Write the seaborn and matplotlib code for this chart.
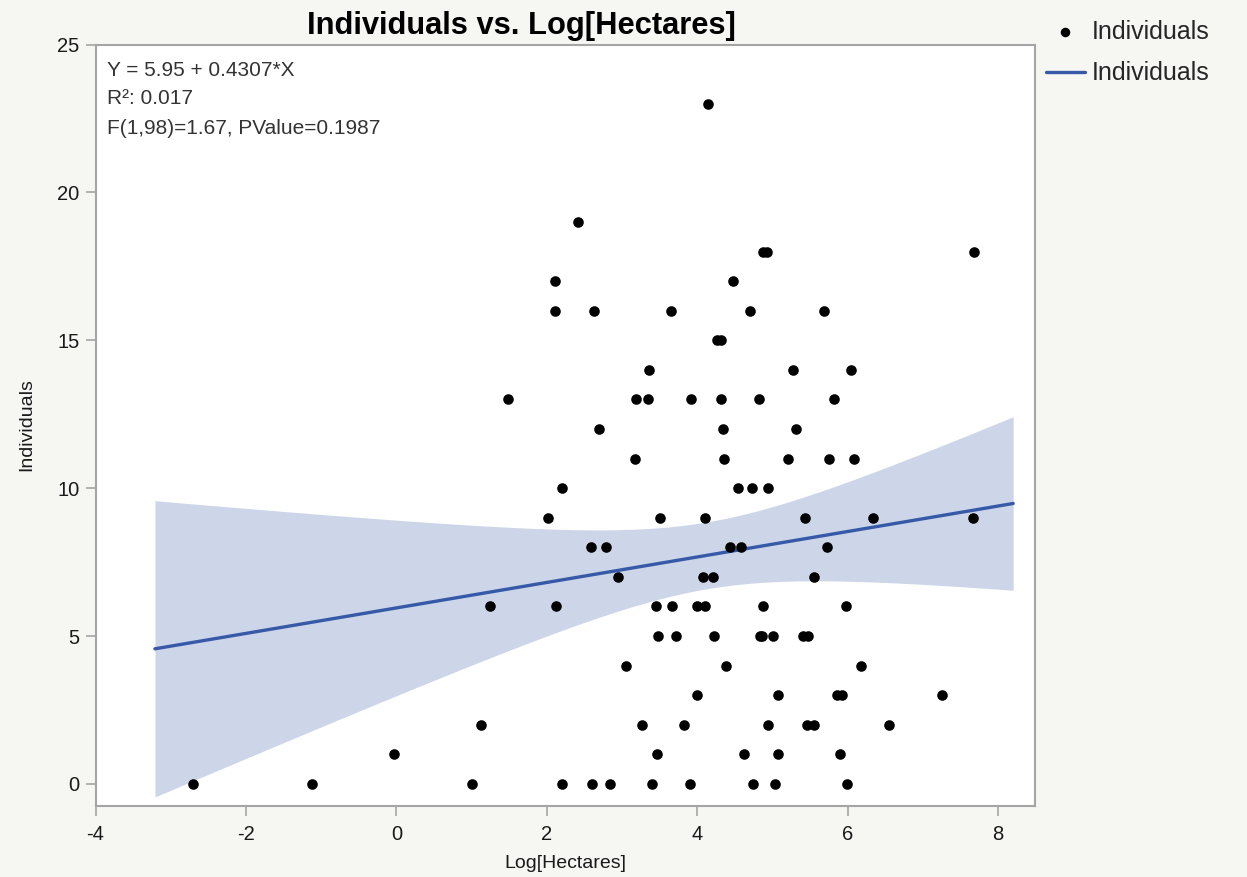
import numpy as np
import pandas as pd
import matplotlib
matplotlib.use("Agg")
import matplotlib.pyplot as plt
import seaborn as sns

# Survey sites: log of area (hectares) and number of individuals counted
log_hectares = [
    -2.70, -1.12, 1.00, 2.20, 2.60, 2.84, 3.40, 3.90, 4.74, 5.03, 5.99,   # 0
    -0.03, 3.47, 4.62, 5.07, 5.90,                                         # 1
    1.13, 3.27, 3.83, 4.94, 5.46, 5.55, 6.55,                              # 2
    3.99, 5.08, 5.86, 5.92, 7.25,                                          # 3
    3.05, 4.38, 6.18,                                                      # 4
    3.48, 3.72, 4.22, 4.83, 4.86, 5.01, 5.41, 5.47,                        # 5
    1.25, 2.12, 3.45, 3.67, 3.99, 4.10, 4.87, 5.98,                        # 6
    2.94, 4.07, 4.21, 5.55,                                                # 7
    2.59, 2.79, 4.44, 4.58, 5.72,                                          # 8
    2.02, 3.50, 4.10, 5.43, 6.34, 7.66,                                    # 9
    2.20, 4.54, 4.73, 4.94,                                                # 10
    3.17, 4.36, 5.20, 5.75, 6.08,                                          # 11
    2.70, 4.34, 5.31,                                                      # 12
    1.48, 3.18, 3.35, 3.92, 4.31, 4.82, 5.82,                              # 13
    3.36, 5.27, 6.04,                                                      # 14
    4.26, 4.32,                                                            # 15
    2.11, 2.63, 3.65, 4.70, 5.68,                                          # 16
    2.11, 4.47,                                                            # 17
    4.87, 4.93, 7.68,                                                      # 18
    2.42,                                                                  # 19
    4.14,                                                                  # 23
]
individuals = (
    [0] * 11 + [1] * 5 + [2] * 7 + [3] * 5 + [4] * 3 + [5] * 8 + [6] * 8
    + [7] * 4 + [8] * 5 + [9] * 6 + [10] * 4 + [11] * 5 + [12] * 3 + [13] * 7
    + [14] * 3 + [15] * 2 + [16] * 5 + [17] * 2 + [18] * 3 + [19] * 1 + [23] * 1
)

# Reported linear fit
intercept = 5.95
slope = 0.4307
fit_lines = ["Y = 5.95 + 0.4307*X", "R\u00b2: 0.017", "F(1,98)=1.67, PValue=0.1987"]
x_ticks = [-4, -2, 0, 2, 4, 6, 8]
y_ticks = [0, 5, 10, 15, 20, 25]
fit_range = (-3.21, 8.20)

df = pd.DataFrame({"Log[Hectares]": log_hectares, "Individuals": individuals})

# Confidence band for the mean response around the reported line
x = df["Log[Hectares]"].to_numpy(float)
y = df["Individuals"].to_numpy(float)
n = len(x)
resid = y - (intercept + slope * x)
s = np.sqrt(np.sum(resid ** 2) / (n - 2))
xbar = x.mean()
sxx = np.sum((x - xbar) ** 2)
t_crit = 1.9845
grid = np.linspace(fit_range[0], fit_range[1], 200)
fit = intercept + slope * grid
half = t_crit * s * np.sqrt(1.0 / n + (grid - xbar) ** 2 / sxx)
fit_df = pd.DataFrame({"Log[Hectares]": grid, "Individuals": fit})

sns.set_theme(style="white")
plt.rcParams["font.family"] = ["Liberation Sans", "DejaVu Sans"]

bg = "#f6f6f3"
frame = "#a5a5a5"
blue = "#3659a8"
band = "#cdd6e8"

fig = plt.figure(figsize=(12.47, 8.77), dpi=100, facecolor=bg)
ax = fig.add_axes([95.5 / 1247, 1 - 805.5 / 877, (1035 - 95.5) / 1247, (805.5 - 44.5) / 877])
ax.set_facecolor("white")

ax.fill_between(grid, fit - half, fit + half, color=band, linewidth=0, zorder=1)
sns.lineplot(data=fit_df, x="Log[Hectares]", y="Individuals", ax=ax, color=blue,
             linewidth=2.4, zorder=2, label="Individuals")
sns.scatterplot(data=df, x="Log[Hectares]", y="Individuals", ax=ax, color="black",
                s=58, linewidth=0, zorder=3, label="Individuals")

ax.set_xlim(-4, 8.49)
ax.set_ylim(-0.73, 25)
ax.set_xticks(x_ticks)
ax.set_yticks(y_ticks)
ax.set_xticklabels([str(v) for v in x_ticks])
ax.set_yticklabels([str(v) for v in y_ticks])
ax.tick_params(axis="both", direction="out", length=7.2, width=1.2, color=frame,
               labelsize=14.5, labelcolor="#1a1a1a", bottom=True, left=True)
ax.tick_params(axis="x", pad=6.5)
ax.tick_params(axis="y", pad=4.3)
for sp in ax.spines.values():
    sp.set_color(frame)
    sp.set_linewidth(1.5)

ax.set_xlabel("Log[Hectares]", fontsize=14, color="#1a1a1a", labelpad=8)
ax.set_ylabel("Individuals", fontsize=14, color="#1a1a1a", labelpad=16)

for i, line in enumerate(fit_lines):
    ax.text(107 / 1247, 1 - (70 + 29 * i) / 877, line, transform=fig.transFigure,
            fontsize=15, color="#333333", va="center", ha="left")

fig.text(521 / 1247, 1 - 26 / 877, "Individuals vs. Log[Hectares]", ha="center",
         va="center", fontsize=22.2, fontweight="bold", color="black")

handles, labels = ax.get_legend_handles_labels()
ax.legend_.remove()
order = [1, 0]
fig.legend([handles[i] for i in order], [labels[i] for i in order],
           loc="upper left", bbox_to_anchor=(1046 / 1247, 1 - 20 / 877),
           frameon=False, fontsize=18, borderpad=0, borderaxespad=0,
           handlelength=1.55, handletextpad=0.3, labelspacing=0.7,
           markerscale=0.9)

fig.savefig("out.png", dpi=100, facecolor=bg)
